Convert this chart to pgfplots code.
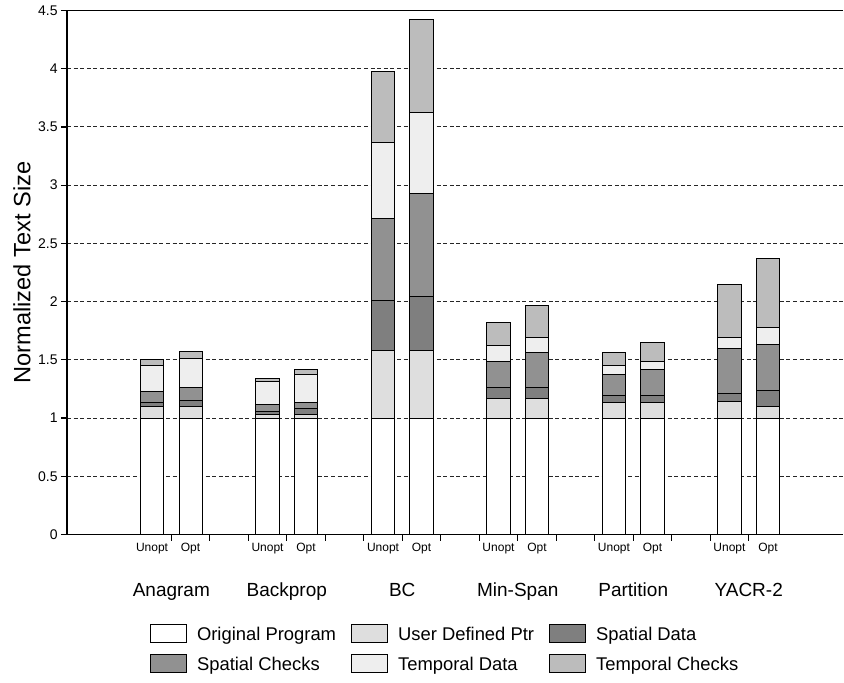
\documentclass[border=0pt]{standalone}
\usepackage{fontspec}
\setmainfont{Liberation Sans}
\usepackage{pgfplots}
\pgfplotsset{compat=1.18}
\usepackage{pgfplotstable}

\definecolor{cOrig}{HTML}{FFFFFF}
\definecolor{cUDP}{HTML}{DEDEDE}
\definecolor{cSD}{HTML}{7F7F7F}
\definecolor{cSC}{HTML}{919191}
\definecolor{cTD}{HTML}{EEEEEE}
\definecolor{cTC}{HTML}{BCBCBC}

\pgfplotstableread{
x orig udp sd sc td tc
0 1 0.10 0.03 0.10 0.22 0.05
1 1 0.10 0.05 0.11 0.25 0.06
3 1 0.03 0.03 0.06 0.19 0.03
4 1 0.03 0.05 0.05 0.24 0.05
6 1 0.58 0.43 0.70 0.66 0.61
7 1 0.58 0.46 0.89 0.69 0.80
9 1 0.17 0.09 0.23 0.13 0.20
10 1 0.17 0.09 0.30 0.13 0.28
12 1 0.13 0.06 0.18 0.08 0.11
13 1 0.13 0.06 0.23 0.07 0.16
15 1 0.14 0.07 0.39 0.09 0.46
16 1 0.10 0.14 0.39 0.15 0.59
}\data

\begin{document}
\begin{tikzpicture}
\begin{axis}[
  scale only axis, width=388pt, height=262pt,
  xmin=-2.21, xmax=17.95, ymin=0, ymax=4.5,
  ybar stacked, bar width=0.6,
  every axis plot post/.append style={legend image code/.code={\draw[##1] (0pt,-4.5pt) rectangle (18pt,4.5pt);}},
  axis x line*=bottom, axis y line*=left,
  axis line style={line width=0.8pt, black},
  tick style={black, line width=0.6pt},
  tick align=outside,
  major tick length=3pt,
  ytick={0,0.5,1,1.5,2,2.5,3,3.5,4,4.5},
  ymajorgrids,
  grid style={black!85, line width=0.5pt, dash pattern=on 2pt off 1.3pt},
  /pgf/number format/assume math mode=true,
  yticklabel style={font=\fontsize{7}{8}\selectfont, inner sep=1.5pt},
  xtick={0.5,1.5,2.5,3.5,4.5,5.5,6.5,7.5,8.5,9.5,10.5,11.5,12.5,13.5,14.5,15.5},
  xticklabels={Anagram,,,Backprop,,,BC,,,Min-Span,,,Partition,,,YACR-2},
  xticklabel style={font=\fontsize{9.5}{11}\selectfont, anchor=base},
  xticklabel shift=28pt,
  extra x ticks={0,1,3,4,6,7,9,10,12,13,15,16},
  extra x tick labels={Unopt,Opt,Unopt,Opt,Unopt,Opt,Unopt,Opt,Unopt,Opt,Unopt,Opt},
  extra x tick style={major tick length=0pt, xticklabel shift=8.3pt,
    xticklabel style={font=\fontsize{6}{7}\selectfont, anchor=base}},
  every axis y label/.style={at={(axis description cs:-0.058,0.5)}, rotate=90, anchor=center},
  ylabel={Normalized Text Size},
  ylabel style={font=\fontsize{11.8}{14}\selectfont},
  legend columns=3,
  legend cell align=left,
  legend style={at={(axis description cs:0.107,0)}, anchor=north west, yshift=-44.75pt,
    draw=none, fill=none, inner sep=0pt, outer sep=0pt,
    font=\fontsize{9.2}{11}\selectfont,
    row sep=5.5pt,
    nodes={inner sep=0pt, text height=7.8pt, text depth=1.2pt},
    /tikz/every odd column/.append style={column sep=5pt},
    /tikz/every even column/.append style={column sep=7.5pt}},
]
\addplot[fill=cOrig, draw=black, line width=0.5pt] table[x=x, y=orig] {\data};
\addplot[fill=cUDP, draw=black, line width=0.5pt] table[x=x, y=udp] {\data};
\addplot[fill=cSD, draw=black, line width=0.5pt] table[x=x, y=sd] {\data};
\addplot[fill=cSC, draw=black, line width=0.5pt] table[x=x, y=sc] {\data};
\addplot[fill=cTD, draw=black, line width=0.5pt] table[x=x, y=td] {\data};
\addplot[fill=cTC, draw=black, line width=0.5pt] table[x=x, y=tc] {\data};
\legend{Original Program, User Defined Ptr, Spatial Data, Spatial Checks, Temporal Data, Temporal Checks}
\draw[line width=0.8pt, black] (rel axis cs:0,1) -- (rel axis cs:1,1);
\end{axis}
\pgfresetboundingbox
\path (-33.5pt,-73.75pt) rectangle (388.5pt,267.25pt);
\end{tikzpicture}
\end{document}
